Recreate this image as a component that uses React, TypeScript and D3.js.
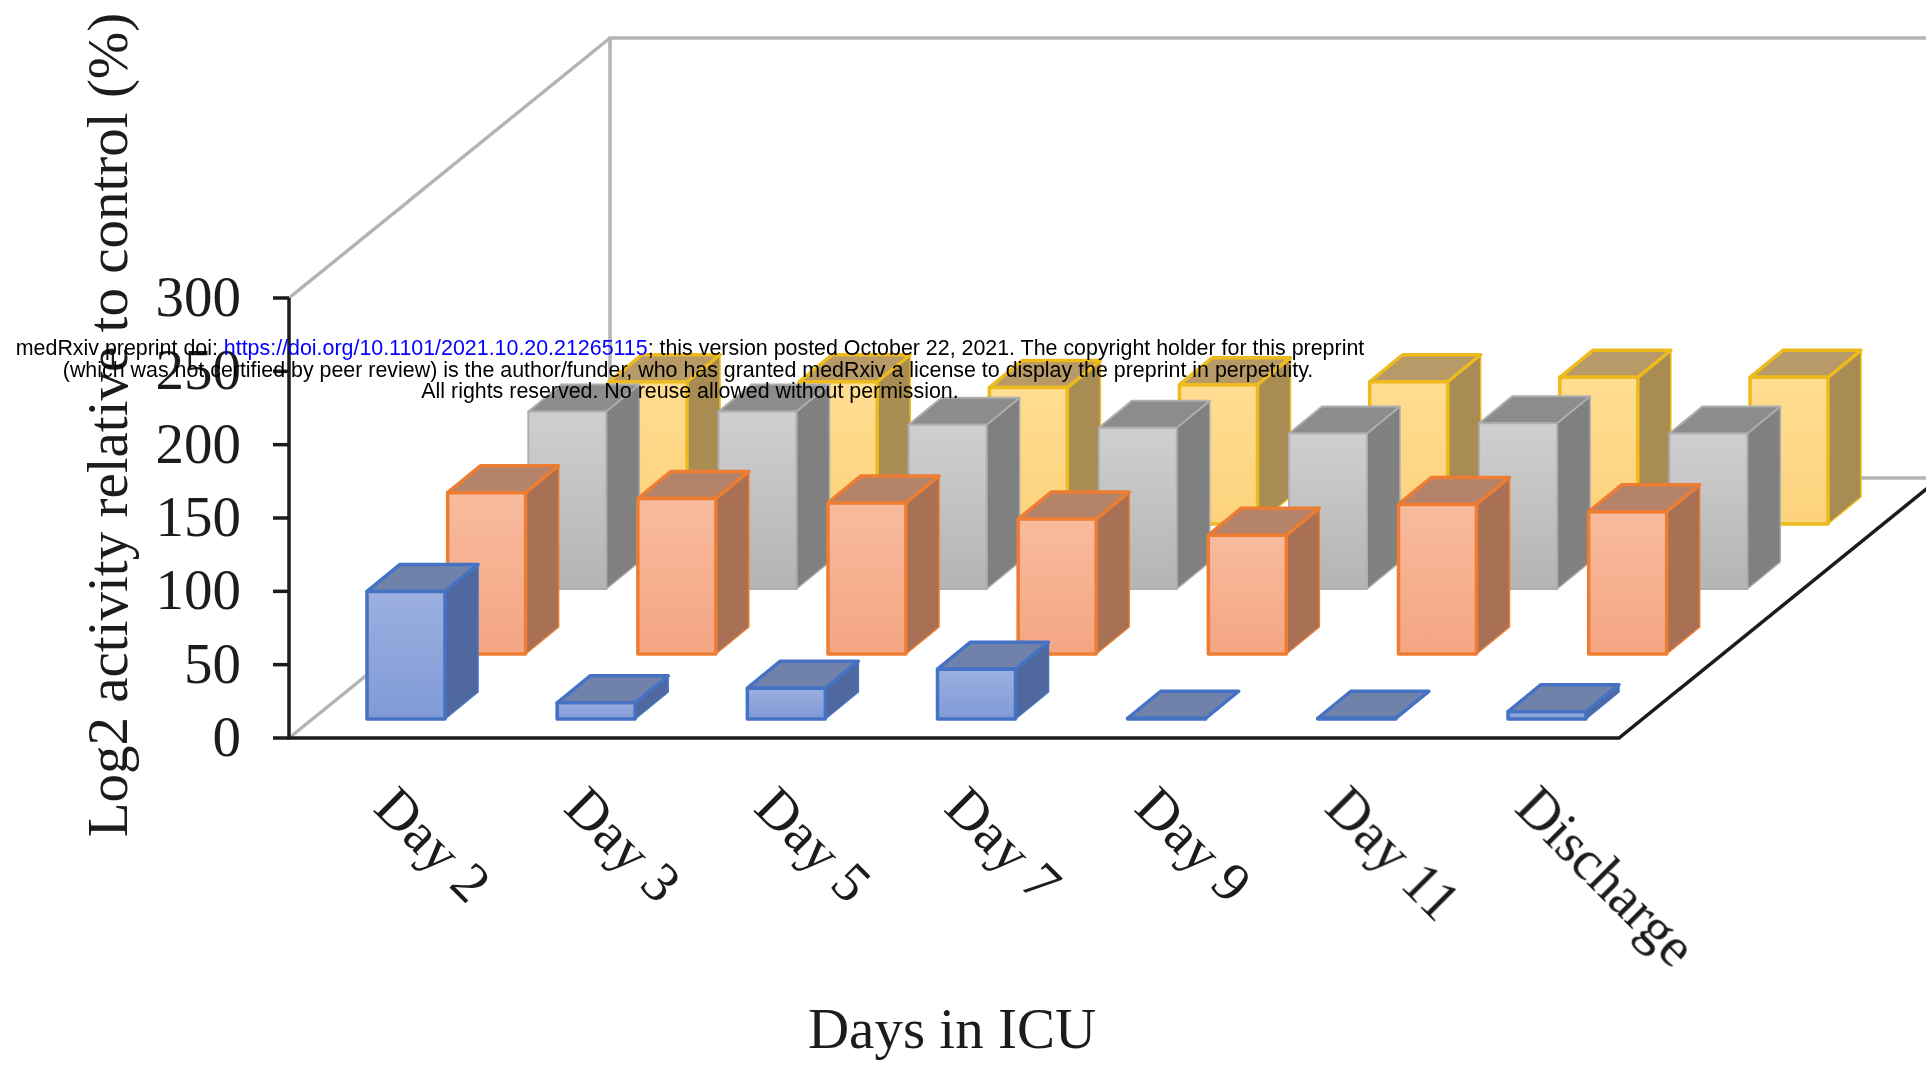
import React from "react";
import * as d3 from "d3";

const days = ["Day 2", "Day 3", "Day 5", "Day 7", "Day 9", "Day 11", "Discharge"];
const seriesNames = ["A", "B", "C", "D"];
const blueValues = [87, 11, 21, 34, 0.5, 0.5, 5];
const orangeValues = [110, 106, 103, 92, 81, 102, 97];
const grayValues = [121, 121, 112, 110, 106, 113, 106];
const yellowValues = [97, 97, 93, 95, 97, 100, 100];
const yTicks = [0, 50, 100, 150, 200, 250, 300];

const styles = [
  { stroke: "#4472c4", sw: 3.5, top: "#6f82aa", side: "#50699f", f0: "#9cb0e0", f1: "#7f9ad6" },
  { stroke: "#ed7d31", sw: 3.5, top: "#b5826a", side: "#a86f54", f0: "#f8bb9d", f1: "#f4a583" },
  { stroke: "#aeaeae", sw: 2, top: "#8c8c8c", side: "#808080", f0: "#cfcfcf", f1: "#b4b4b4" },
  { stroke: "#eebb1c", sw: 3.5, top: "#b89a68", side: "#a98c52", f0: "#ffdd92", f1: "#fdd27c" },
];
const seriesValues = [blueValues, orangeValues, grayValues, yellowValues];

const W = 1926, H = 1068;
const x0 = 289, y0 = 738, yTop = 298;
const wallDx = 321, wallDy = 260;
const barW = 78, depthX = 33, depthY = 27;

const xScale = d3.scalePoint<string>().domain(days).range([367, 1508]);
const rowX = d3.scalePoint<string>().domain(seriesNames).range([0, 242]);
const rowY = d3.scalePoint<string>().domain(seriesNames).range([719, 524]);
const yScale = d3.scaleLinear().domain([0, 300]).range([y0, yTop]);
const hScale = d3.scaleLinear().domain([0, 300]).range([0, y0 - yTop]);

const poly = (pts: [number, number][]) => d3.line()(pts) + "Z";
const serif = "'Liberation Serif', 'Times New Roman', serif";
const ink = "#1c1c1c";

function Bar({ s, d, v }: { s: number; d: string; v: number }) {
  const st = styles[s];
  const name = seriesNames[s];
  const x = xScale(d)! + rowX(name)!;
  const b = rowY(name)!;
  const t = b - hScale(v);
  const r = x + barW;
  return (
    <g stroke={st.stroke} strokeWidth={st.sw} strokeLinejoin="round">
      <path d={poly([[r, b], [r + depthX, b - depthY], [r + depthX, t - depthY], [r, t]])} fill={st.side} strokeWidth={1.5} />
      <path d={poly([[x, t], [r, t], [r + depthX, t - depthY], [x + depthX, t - depthY]])} fill={st.top} />
      <rect x={x} y={t} width={barW} height={b - t} fill={`url(#grad${s})`} />
    </g>
  );
}

export default function App() {
  const order = [3, 2, 1, 0];
  return (
    <svg width={W} height={H} viewBox={`0 0 ${W} ${H}`} style={{ position: "absolute", left: 0, top: 0, background: "#fff" }}>
      <defs>
        {styles.map((st, i) => (
          <linearGradient key={i} id={`grad${i}`} x1="0" y1="0" x2="0" y2="1">
            <stop offset="0" stopColor={st.f0} />
            <stop offset="1" stopColor={st.f1} />
          </linearGradient>
        ))}
        <filter id="soft" x="-5%" y="-5%" width="110%" height="110%">
          <feGaussianBlur stdDeviation="0.7" />
        </filter>
      </defs>
      <g filter="url(#soft)">
        <g stroke="#b4b4b4" strokeWidth={3.5} fill="none">
          <path d={poly([[x0, yTop], [x0 + wallDx, yTop - wallDy]]).replace("Z", "")} />
          <path d={`M${x0 + wallDx},${y0 - wallDy}V${yTop - wallDy}H${W}`} />
          <path d={`M${x0},${y0}L${x0 + wallDx},${y0 - wallDy}H${W}`} />
        </g>
        {order.map((s) => (
          <g key={s}>
            {days.map((d, i) => (
              <Bar key={d} s={s} d={d} v={seriesValues[s][i]} />
            ))}
          </g>
        ))}
        <g stroke={ink} strokeWidth={3.5} fill="none">
          <path d={`M${x0},${yTop}V${y0}H1619L${1619 + wallDx},${y0 - wallDy}`} />
          {yTicks.map((t) => (
            <path key={t} d={`M${x0 - 16},${yScale(t)}H${x0}`} />
          ))}
        </g>
        <g fontFamily={serif} fill={ink}>
          {yTicks.map((t) => (
            <text key={t} x={241} y={yScale(t) + 18} fontSize={57} textAnchor="end">{t}</text>
          ))}
          {days.map((d) => (
            <text key={d} transform={`translate(${xScale(d)! + 5},${810}) rotate(45)`} fontSize={56}>{d}</text>
          ))}
          <text x={952} y={1048} fontSize={57} textAnchor="middle">Days in ICU</text>
          <text transform="translate(127,425) rotate(-90)" fontSize={57} textAnchor="middle">Log2 activity relative to control (%)</text>
        </g>
      </g>
      <g fontFamily="'Liberation Sans', Arial, sans-serif" fontSize={21.4} fill="#000" textAnchor="middle">
        <text x={690} y={355}>
          medRxiv preprint doi: <tspan fill="#0000ff">https://doi.org/10.1101/2021.10.20.21265115</tspan>; this version posted October 22, 2021. The copyright holder for this preprint
        </text>
        <text x={688} y={377}>(which was not certified by peer review) is the author/funder, who has granted medRxiv a license to display the preprint in perpetuity.</text>
        <text x={690} y={398}>All rights reserved. No reuse allowed without permission.</text>
      </g>
    </svg>
  );
}
